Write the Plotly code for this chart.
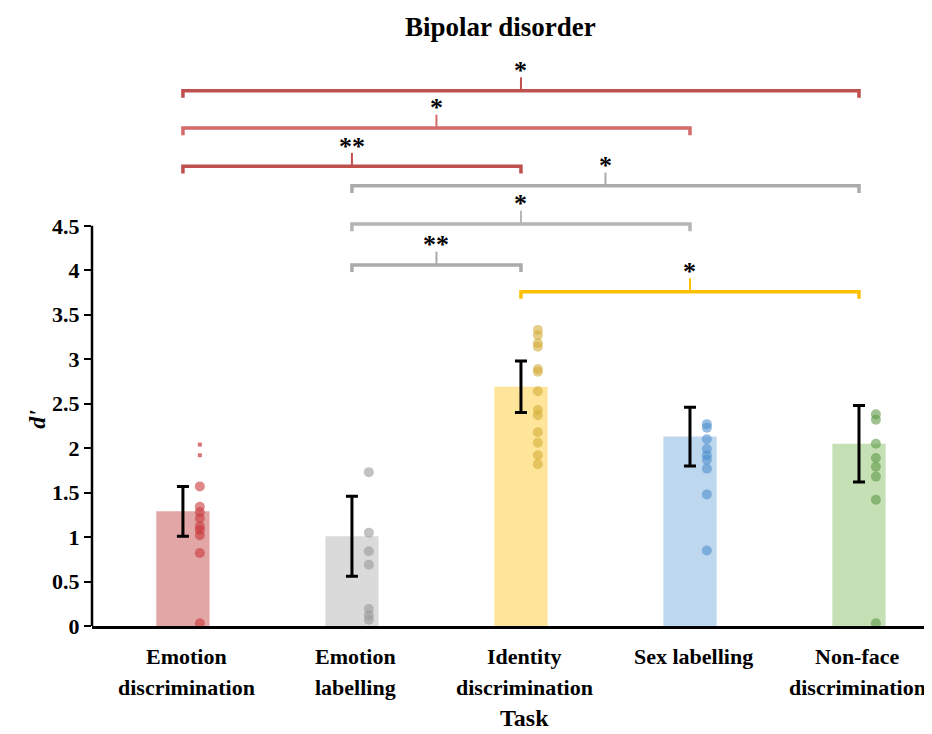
import plotly.graph_objects as go

# ---------------- data ----------------
tasks = ["Emotion discrimination", "Emotion labelling", "Identity discrimination",
         "Sex labelling", "Non-face discrimination"]
tick_lines = [["Emotion", "discrimination"], ["Emotion", "labelling"],
              ["Identity", "discrimination"], ["Sex labelling"], ["Non-face", "discrimination"]]
means = [1.29, 1.01, 2.69, 2.13, 2.05]
sems = [0.28, 0.45, 0.29, 0.33, 0.43]

pts_emotion_disc = [1.57, 1.34, 1.28, 1.21, 1.12, 1.08, 1.02, 0.82, 0.03]
pts_emotion_disc_small = [2.04, 1.92]
pts_emotion_lab = [1.73, 1.05, 0.84, 0.69, 0.19, 0.12, 0.07]
pts_identity = [3.33, 3.27, 3.18, 3.14, 2.89, 2.86, 2.64, 2.43, 2.37, 2.18, 2.06, 1.92, 1.82]
pts_sex = [2.27, 2.23, 2.10, 1.99, 1.92, 1.87, 1.77, 1.48, 0.85]
pts_nonface = [2.38, 2.32, 2.05, 1.89, 1.79, 1.68, 1.42, 0.03]
points = [pts_emotion_disc, pts_emotion_lab, pts_identity, pts_sex, pts_nonface]

bar_colors = ["#e2a6a6", "#dadada", "#fee599", "#bdd7ee", "#c5e0b4"]
dot_colors = ["#c8393c", "#9a9a9a", "#d4ae3a", "#4f8fcf", "#5e9a48"]

# significance brackets: (from task index, to task index, level, label, colour)
brackets = [
    (0, 4, 6.02, "*", "#c0504d"),
    (0, 3, 5.60, "*", "#d26a6a"),
    (0, 2, 5.17, "**", "#c0504d"),
    (1, 4, 4.95, "*", "#ababab"),
    (1, 3, 4.52, "*", "#b5b5b5"),
    (1, 2, 4.06, "**", "#ababab"),
    (2, 4, 3.76, "*", "#ffc000"),
]

# ---------------- figure ----------------
FONT = "Liberation Serif"
x_idx = list(range(len(tasks)))
fig = go.Figure()

fig.add_trace(go.Bar(
    x=x_idx, y=means, width=0.315,
    marker=dict(color=bar_colors, line=dict(width=0)),
    error_y=dict(type="data", array=sems, color="black", thickness=3, width=6),
    showlegend=False, hoverinfo="skip",
))

dot_off = 0.1
for i, vals in enumerate(points):
    fig.add_trace(go.Scatter(
        x=[i + dot_off] * len(vals), y=vals, mode="markers",
        marker=dict(size=10, color=dot_colors[i], opacity=0.6, line=dict(width=0)),
        showlegend=False, cliponaxis=False, hoverinfo="skip",
    ))
fig.add_trace(go.Scatter(
    x=[0 + dot_off] * len(pts_emotion_disc_small), y=pts_emotion_disc_small, mode="markers",
    marker=dict(size=4, symbol="square", color=dot_colors[0], opacity=0.7, line=dict(width=0)),
    showlegend=False, hoverinfo="skip",
))

drop = 0.08
stem = 0.15
for (a, b, lev, lab, col) in brackets:
    fig.add_trace(go.Scatter(
        x=[a, a, b, b], y=[lev - drop, lev, lev, lev - drop], mode="lines",
        line=dict(color=col, width=3.5), showlegend=False, hoverinfo="skip",
    ))
    xm = (a + b) / 2
    fig.add_trace(go.Scatter(
        x=[xm, xm], y=[lev, lev + stem], mode="lines",
        line=dict(color=col, width=2), showlegend=False, hoverinfo="skip",
    ))
    fig.add_annotation(x=xm, y=lev + 0.26, text="<b>" + lab + "</b>", showarrow=False,
                       yanchor="middle", yshift=-3, font=dict(family=FONT, size=26, color="black"))

# y axis line only up to 4.5
fig.add_shape(type="line", xref="paper", x0=0, x1=0, yref="y", y0=0, y1=4.5,
              line=dict(color="black", width=2.5))

# category labels (two lines each)
for i, lines in enumerate(tick_lines):
    for k, t in enumerate(lines):
        fig.add_annotation(x=min(i + 0.02, 3.99), xref="x", y=0, yref="paper", text="<b>" + t + "</b>",
                           showarrow=False, yanchor="middle", yshift=-30 - 31 * k,
                           font=dict(family=FONT, size=22, color="black"))

fig.add_annotation(x=2.02, xref="x", y=0, yref="paper", text="<b>Task</b>", showarrow=False,
                   yanchor="middle", yshift=-92, font=dict(family=FONT, size=24, color="black"))
fig.add_annotation(x=0, xref="paper", y=2.32, yref="y", text="<b><i>d'</i></b>", showarrow=False,
                   textangle=-90, xshift=-70, font=dict(family=FONT, size=24, color="black"))
fig.add_annotation(x=1.88, xref="x", y=1, yref="paper", text="<b>Bipolar disorder</b>",
                   showarrow=False, yanchor="middle", yshift=13,
                   font=dict(family=FONT, size=27, color="black"))

yt = [0, 0.5, 1, 1.5, 2, 2.5, 3, 3.5, 4, 4.5]
# the page body adds an 8px offset, so the figure is 8px smaller than the window
fig.update_layout(
    width=924, height=726,
    margin=dict(l=84, r=0, t=32, b=108),
    plot_bgcolor="white", paper_bgcolor="white",
    showlegend=False,
    xaxis=dict(range=[-0.538, 4.432], showgrid=False, zeroline=False,
               showline=True, linecolor="black", linewidth=3,
               tickvals=x_idx, ticktext=[""] * len(x_idx), ticks=""),
    yaxis=dict(range=[0, 6.59], showgrid=False, zeroline=False, showline=False,
               tickvals=yt, ticktext=["<b>%g</b>" % v for v in yt],
               ticks="outside", ticklen=7, tickwidth=2, tickcolor="black",
               tickfont=dict(family=FONT, size=22, color="black")),
)

fig.write_html("out.html")
